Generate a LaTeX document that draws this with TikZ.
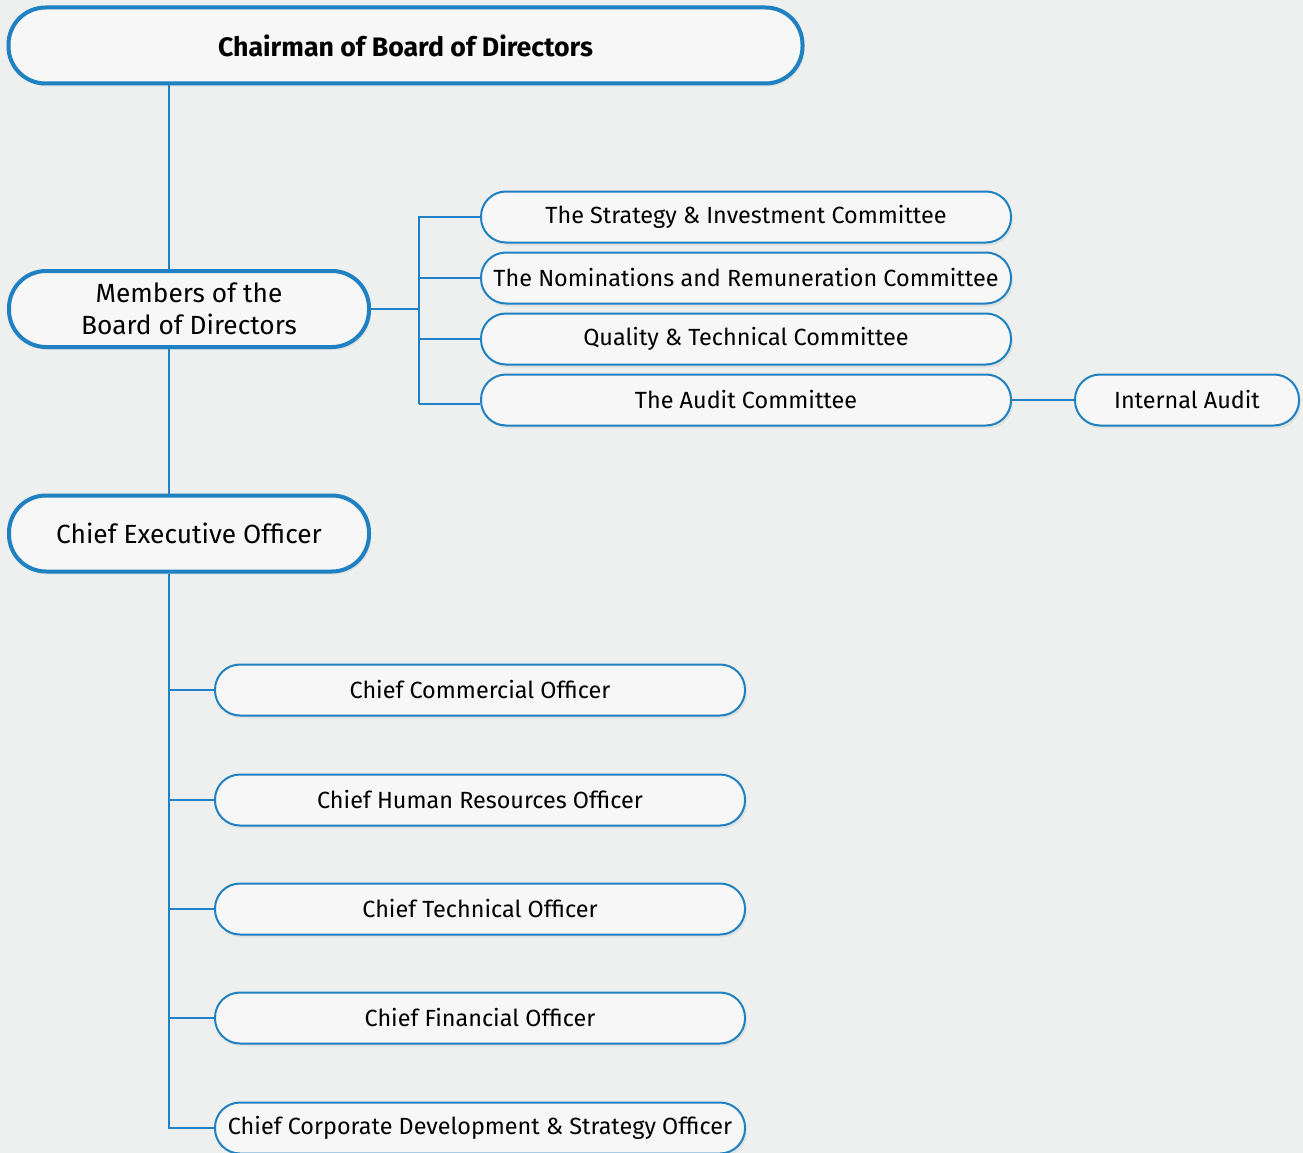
\documentclass[tikz,border=0pt]{standalone}
\usepackage{fontspec}
\setmainfont{Fira Sans}
\usetikzlibrary{shadows,calc}
\definecolor{bg}{RGB}{238,239,239}
\definecolor{boxfill}{RGB}{247,247,247}
\definecolor{bordblue}{RGB}{31,128,194}
\definecolor{lineblue}{RGB}{31,130,198}
\tikzset{
  box/.style={draw=bordblue, fill=boxfill, line width=2pt, rounded corners=25pt,
    minimum height=51pt, inner sep=0pt, align=center,
    font=\fontsize{23.4}{27}\selectfont,
    drop shadow={shadow xshift=2pt, shadow yshift=-3pt, opacity=0.12}},
  bigbox/.style={box, line width=4pt, rounded corners=37pt, minimum height=76pt,
    font=\fontsize{26.3}{32}\selectfont},
  conn/.style={draw=lineblue, line width=1.8pt}
}
\begin{document}
\begin{tikzpicture}[x=1pt,y=-1pt]
\fill[bg] (0,0) rectangle (1303,1153);
\useasboundingbox (0,0) rectangle (1303,1153);
% main column
\node[bigbox, minimum width=794pt, font=\fontsize{26.7}{30}\selectfont\bfseries] (chair) at (405.5,45.5) {Chairman of Board of Directors};
\node[bigbox, minimum width=360pt] (members) at (189,309) {Members of the\\Board of Directors};
\node[bigbox, minimum width=360pt] (ceo) at (189,533.5) {Chief Executive Officer};
% committees
\node[box, minimum width=530pt] (strat) at (746,217) {The Strategy \& Investment Committee};
\node[box, minimum width=530pt] (nom) at (746,278) {The Nominations and Remuneration Committee};
\node[box, minimum width=530pt] (qual) at (746,339) {Quality \& Technical Committee};
\node[box, minimum width=530pt] (audit) at (746,400) {The Audit Committee};
\node[box, minimum width=224pt] (ia) at (1187,400) {Internal Audit};
% officers
\node[box, minimum width=530pt] (cco) at (480,690) {Chief Commercial Officer};
\node[box, minimum width=530pt] (chro) at (480,800) {Chief Human Resources Officer};
\node[box, minimum width=530pt] (cto) at (480,909) {Chief Technical Officer};
\node[box, minimum width=530pt] (cfo) at (480,1018) {Chief Financial Officer};
\node[box, minimum width=530pt] (ccdso) at (480,1128) {Chief Corporate Development \& Strategy Officer};
% connectors
\coordinate (cx) at (169,0);
\coordinate (bx) at (419,0);
\coordinate (auditin) at ($(audit.west)+(0,4)$);
\draw[conn] (chair.south -| cx) -- (members.north -| cx);
\draw[conn] (members.south -| cx) -- (ceo.north -| cx);
\draw[conn] (ceo.south -| cx) |- (ccdso.west);
\draw[conn] (cco.west) -- (cco.west -| cx);
\draw[conn] (chro.west) -- (chro.west -| cx);
\draw[conn] (cto.west) -- (cto.west -| cx);
\draw[conn] (cfo.west) -- (cfo.west -| cx);
\draw[conn] (members.east) -- (members.east -| bx);
\draw[conn] (strat.west) -| (bx |- auditin);
\draw[conn] (nom.west) -- (nom.west -| bx);
\draw[conn] (qual.west) -- (qual.west -| bx);
\draw[conn] (bx |- auditin) -- (auditin);
\draw[conn] (audit.east) -- (ia.west);
\end{tikzpicture}
\end{document}
